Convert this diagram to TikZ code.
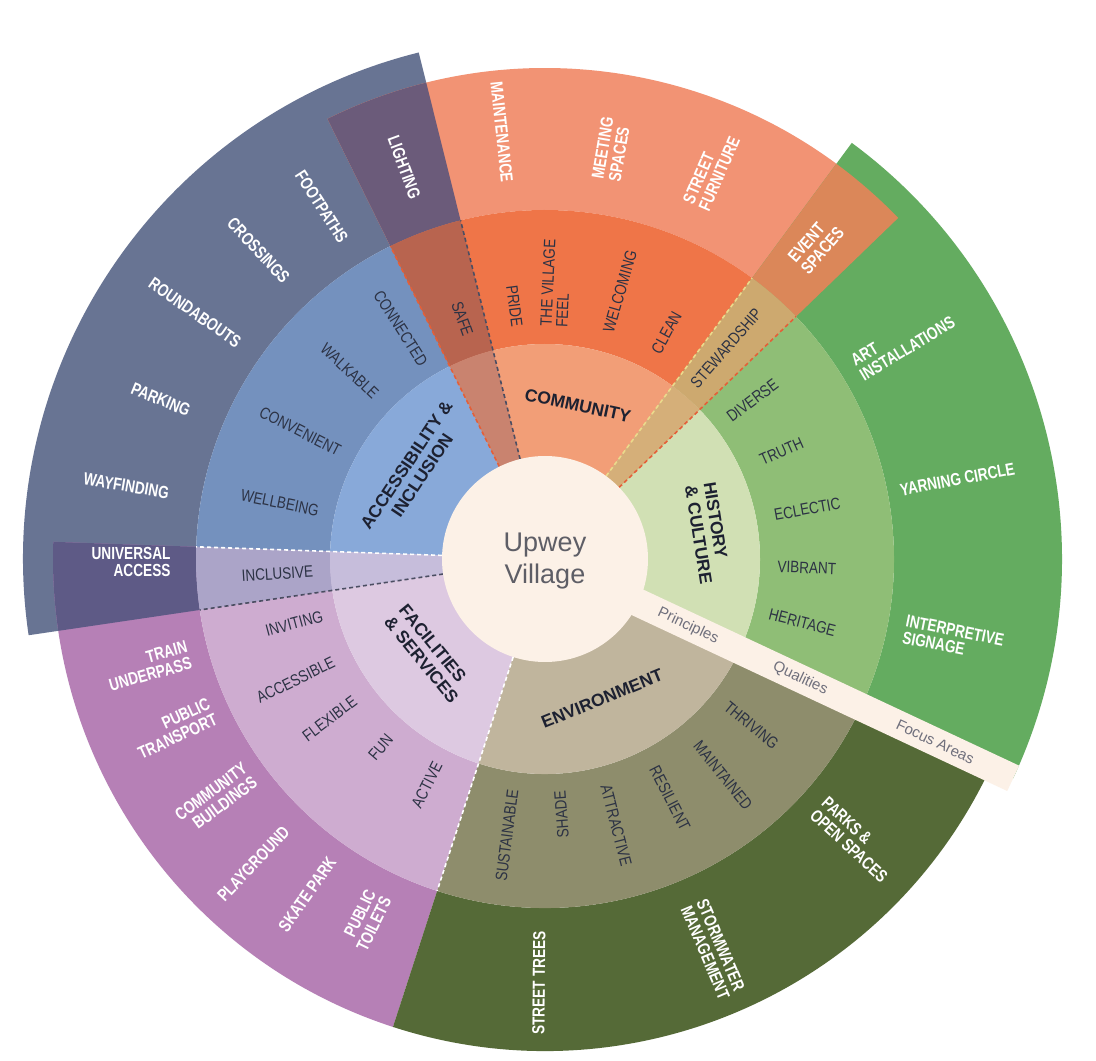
\documentclass[tikz,border=0pt]{standalone}
\usepackage{graphicx}
\usepackage{fontspec}
\setmainfont{Liberation Sans}
\definecolor{bfoc}{HTML}{687493}
\definecolor{bqual}{HTML}{7491BE}
\definecolor{bprin}{HTML}{88A9D9}
\definecolor{ofoc}{HTML}{F29374}
\definecolor{oqual}{HTML}{EF7548}
\definecolor{oprin}{HTML}{F29E77}
\definecolor{gfoc}{HTML}{64AC60}
\definecolor{gqual}{HTML}{8FBE76}
\definecolor{gprin}{HTML}{D1E0B4}
\definecolor{efoc}{HTML}{556A37}
\definecolor{eqlt}{HTML}{8E8D6C}
\definecolor{eprin}{HTML}{C0B59D}
\definecolor{pfoc}{HTML}{B680B6}
\definecolor{pqual}{HTML}{CEACD0}
\definecolor{pprin}{HTML}{DDC9E1}
\definecolor{xlight}{HTML}{6B5B7A}
\definecolor{xsafe}{HTML}{B8644F}
\definecolor{xsafep}{HTML}{C9836F}
\definecolor{xevent}{HTML}{DB8759}
\definecolor{xstew}{HTML}{CDA96F}
\definecolor{xstewp}{HTML}{D5AF79}
\definecolor{xuni}{HTML}{5E5A86}
\definecolor{xincl}{HTML}{ABA4C8}
\definecolor{xinclp}{HTML}{C6BDDB}
\definecolor{cream}{HTML}{FCF1E7}
\definecolor{qtext}{HTML}{2C3244}
\definecolor{ptext}{HTML}{1D2131}
\definecolor{bandtext}{HTML}{6F6F7C}
\definecolor{ctext}{HTML}{5E5E66}
\definecolor{dashdark}{HTML}{4B4E62}
\definecolor{dashred}{HTML}{E45F38}
\definecolor{dashyel}{HTML}{EBDB8C}
\newcommand{\sectorfill}[5]{\fill[#1] (#2:#5pt) arc[start angle=#2,end angle=#3,radius=#5pt] -- (#3:#4pt) arc[start angle=#3,end angle=#2,radius=#4pt] -- cycle;}
\newcommand{\cn}[2][l]{\scalebox{0.78}[1]{\begin{tabular}{@{}#1@{}}#2\end{tabular}}}
\newcommand{\qn}[2][l]{\scalebox{0.82}[1]{\begin{tabular}{@{}#1@{}}#2\end{tabular}}}
\tikzset{
  foc/.style={font=\bfseries\fontsize{17.5}{16.5}\selectfont, text=white, inner sep=0pt},
  qual/.style={font=\fontsize{16.5}{15}\selectfont, text=qtext, inner sep=0pt},
  prin/.style={font=\bfseries\fontsize{17.5}{19}\selectfont, text=ptext, inner sep=0pt},
  bandlbl/.style={font=\fontsize{15}{15}\selectfont, text=bandtext, inner sep=0pt, rotate=-25.1},
  dline/.style={line width=1.6pt, dash pattern=on 4pt off 3pt}
}
\begin{document}
\begin{tikzpicture}[x=1pt,y=1pt]
\useasboundingbox (0,0) rectangle (1096,1061);
\fill[white] (0,0) rectangle (1096,1061);
\begin{scope}[shift={(545,502)}]
% Accessibility & Inclusion (blue)
\sectorfill{bfoc}{104}{188.4}{349}{522}
\sectorfill{bqual}{104}{188.4}{215}{349}
\sectorfill{bprin}{104}{188.4}{40}{215}
% Facilities & Services (purple)
\sectorfill{pfoc}{178}{252}{349}{492}
\sectorfill{pqual}{178}{252}{215}{349}
\sectorfill{pprin}{178}{252}{40}{215}
% Community (orange)
\sectorfill{ofoc}{44}{116.3}{349}{491}
\sectorfill{oqual}{44}{116.3}{215}{349}
\sectorfill{oprin}{44}{116.3}{40}{215}
% History & Culture (green)
\sectorfill{gfoc}{-25.1}{53.6}{349}{517}
\sectorfill{gqual}{-25.1}{53.6}{215}{349}
\sectorfill{gprin}{-25.1}{53.6}{40}{215}
% Environment (olive)
\sectorfill{efoc}{-108}{-25.1}{349}{492}
\sectorfill{eqlt}{-108}{-25.1}{215}{349}
\sectorfill{eprin}{-108}{-25.1}{40}{215}
% overlaps
\sectorfill{xlight}{104}{116.3}{349}{491}
\sectorfill{xsafe}{104}{116.3}{215}{349}
\sectorfill{xsafep}{104}{116.3}{40}{215}
\sectorfill{xevent}{44}{53.6}{349}{491}
\sectorfill{xstew}{44}{53.6}{215}{349}
\sectorfill{xstewp}{44}{53.6}{40}{215}
\sectorfill{xuni}{178}{188.4}{349}{492}
\sectorfill{xincl}{178}{188.4}{215}{349}
\sectorfill{xinclp}{178}{188.4}{40}{215}
% dashed edges
\draw[dline, dashred] (116.3:103pt) -- (116.3:349pt);
\draw[dline, dashdark] (104:103pt) -- (104:349pt);
\draw[dline, dashred] (44:103pt) -- (44:349pt);
\draw[dline, dashyel] (53.6:103pt) -- (53.6:349pt);
\draw[dline, white] (178:103pt) -- (178:349pt);
\draw[dline, dashdark] (188.4:103pt) -- (188.4:349pt);
\draw[dline, white] (252:103pt) -- (252:349pt);
% band between history and environment
\fill[cream, rotate=-25.1] (0,-14) rectangle (517,14);
% centre
\fill[cream] (0,0) circle[radius=103pt];
\node[font=\fontsize{27}{32}\selectfont, text=ctext, align=center, inner sep=0pt] (centre) at (0,-2) {Upwey\\Village};
% band labels
\node[bandlbl] (lblprin) at (-25.1:158pt) {Principles};
\node[bandlbl] (lblqual) at (-25.1:282pt) {Qualities};
\node[bandlbl] (lblfoc) at (-25.1:431pt) {Focus Areas};
% principles
\node[prin, rotate=-12.1] (pcomm) at (77.9:157pt) {COMMUNITY};
\node[prin, rotate=-81, align=left] (phist) at (9:165pt) {HISTORY\\\& CULTURE};
\node[prin, rotate=56.2, align=center] (pacc) at (145.8:158pt) {ACCESSIBILITY \&\\INCLUSION};
\node[prin, rotate=-50.7, align=left] (pfac) at (219.3:150pt) {FACILITIES\\\& SERVICES};
\node[prin, rotate=22.2] (penv) at (-67.8:151pt) {ENVIRONMENT};
% blue qualities
\node[qual, rotate=-70.5] (qsafe) at (109.5:254pt) {\qn{SAFE}};
\node[qual, rotate=-57.5] (qconn) at (122.5:272pt) {\qn{CONNECTED}};
\node[qual, rotate=-43.4] (qwalk) at (136.6:271pt) {\qn{WALKABLE}};
\node[qual, rotate=-27.1] (qconv) at (152.9:276pt) {\qn{CONVENIENT}};
\node[qual, rotate=-11.5] (qwell) at (168.5:271pt) {\qn{WELLBEING}};
\node[qual, rotate=3.6] (qincl) at (183.6:268pt) {\qn{INCLUSIVE}};
% blue focus
\node[foc, rotate=-69.9] (flight) at (110.1:416pt) {\cn{LIGHTING}};
\node[foc, rotate=-57.3] (ffoot) at (122.7:417pt) {\cn{FOOTPATHS}};
\node[foc, rotate=-46.8] (fcross) at (133.2:421pt) {\cn{CROSSINGS}};
\node[foc, rotate=-34.8] (fround) at (145.2:428pt) {\cn{ROUNDABOUTS}};
\node[foc, rotate=-22.2] (fpark) at (157.8:416pt) {\cn{PARKING}};
\node[foc, rotate=-9.6] (fway) at (170.4:425pt) {\cn{WAYFINDING}};
\node[foc] (funi) at (180.7:414pt) {\cn[r]{UNIVERSAL\\ACCESS}};
% community qualities
\node[qual, rotate=-82.6] (qpride) at (97.4:255pt) {\qn{PRIDE}};
\node[qual, rotate=87.3] (qfeel) at (87.3:276pt) {\qn{THE VILLAGE\\FEEL}};
\node[qual, rotate=73.9] (qwelc) at (73.9:278pt) {\qn{WELCOMING}};
\node[qual, rotate=61.3] (qclean) at (61.3:257pt) {\qn{CLEAN}};
\node[qual, rotate=48.9] (qstew) at (48.9:278pt) {\qn{STEWARDSHIP}};
% community focus
\node[foc, rotate=-83.9] (fmaint) at (96.1:429pt) {\cn{MAINTENANCE}};
\node[foc, rotate=80.5] (fmeet) at (80.5:415pt) {\cn{MEETING\\SPACES}};
\node[foc, rotate=66.5] (fstreet) at (66.5:423pt) {\cn{STREET\\FURNITURE}};
\node[foc, rotate=48.9] (fevent) at (48.9:415pt) {\cn{EVENT\\SPACES}};
% history qualities
\node[qual, rotate=36.9] (qdiv) at (36.9:261pt) {\qn{DIVERSE}};
\node[qual, rotate=24] (qtruth) at (24:260pt) {\qn{TRUTH}};
\node[qual, rotate=10.3] (qecl) at (10.3:267pt) {\qn{ECLECTIC}};
\node[qual, rotate=-2.4] (qvib) at (-2.4:262pt) {\qn{VIBRANT}};
\node[qual, rotate=-14.3] (qher) at (-14.3:265pt) {\qn{HERITAGE}};
% history focus
\node[foc, rotate=31] (fart) at (31:419pt) {\cn{ART\\INSTALLATIONS}};
\node[foc, rotate=10.6] (fyarn) at (10.6:420pt) {\cn{YARNING CIRCLE}};
\node[foc, rotate=-11.4] (finter) at (-11.4:416pt) {\cn{INTERPRETIVE\\SIGNAGE}};
% environment qualities
\node[qual, rotate=-39.3] (qthr) at (-39.3:265pt) {\qn{THRIVING}};
\node[qual, rotate=-51] (qmaint) at (-51:280pt) {\qn{MAINTAINED}};
\node[qual, rotate=-62.9] (qres) at (-62.9:270pt) {\qn{RESILIENT}};
\node[qual, rotate=-75.5] (qattr) at (-75.5:276pt) {\qn{ATTRACTIVE}};
\node[qual, rotate=94.2] (qshade) at (-85.8:256pt) {\qn{SHADE}};
\node[qual, rotate=82.6] (qsust) at (262.6:279pt) {\qn{SUSTAINABLE}};
% environment focus
\node[foc, rotate=89.5] (ftrees) at (269.5:424pt) {\cn{STREET TREES}};
\node[foc, rotate=-67] (fstorm) at (-67:425pt) {\cn{STORMWATER\\MANAGEMENT}};
\node[foc, rotate=-42.5] (fparks) at (-42.5:418pt) {\cn{PARKS \&\\OPEN SPACES}};
% facilities qualities
\node[qual, rotate=14.9] (qinv) at (194.9:259pt) {\qn{INVITING}};
\node[qual, rotate=26.3] (qacc) at (206.3:277pt) {\qn{ACCESSIBLE}};
\node[qual, rotate=37] (qflex) at (217:268pt) {\qn{FLEXIBLE}};
\node[qual, rotate=49.4] (qfun) at (229.4:250pt) {\qn{FUN}};
\node[qual, rotate=62.9] (qact) at (242.9:255pt) {\qn{ACTIVE}};
% facilities focus
\node[foc, rotate=15.4] (ftrain) at (195.4:411pt) {\cn[r]{TRAIN\\UNDERPASS}};
\node[foc, rotate=24.9] (fpub) at (204.9:408pt) {\cn[r]{PUBLIC\\TRANSPORT}};
\node[foc, rotate=36.4] (fcomm) at (216.4:407pt) {\cn[r]{COMMUNITY\\BUILDINGS}};
\node[foc, rotate=46.6] (fplay) at (226.6:422pt) {\cn{PLAYGROUND}};
\node[foc, rotate=55] (fskate) at (235:411pt) {\cn{SKATE PARK}};
\node[foc, rotate=64] (ftoil) at (244:403pt) {\cn[r]{PUBLIC\\TOILETS}};
\end{scope}
\end{tikzpicture}
\end{document}
